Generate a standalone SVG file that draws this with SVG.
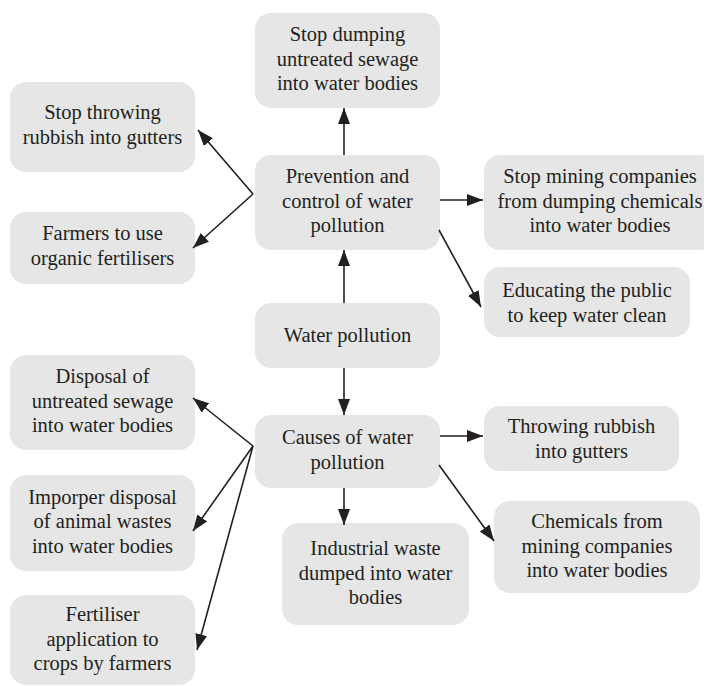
<svg xmlns="http://www.w3.org/2000/svg" width="704" height="686" viewBox="0 0 704 686">
<style>
.box{fill:#e6e6e6;}
text{font-family:'Liberation Serif','Times New Roman',Times,'DejaVu Serif',serif;font-size:20.5px;fill:#231f20;text-anchor:middle;}
.c{stroke:#231f20;stroke-width:1.6;fill:none;marker-end:url(#ah);}
</style>
<defs>
<marker id="ah" markerUnits="userSpaceOnUse" markerWidth="17" markerHeight="12" refX="16" refY="6" orient="auto">
<path d="M0,0 L16,6 L0,12 Z" fill="#231f20"/>
</marker>
</defs>
<rect width="704" height="686" fill="#ffffff"/>
<g font-family="Liberation Serif, Times New Roman, serif">
<g id="stopdump"><rect class="box" x="255" y="13" width="185" height="95" rx="16"/>
<text x="347.5" y="41">Stop dumping</text><text x="347.5" y="65.5">untreated sewage</text><text x="347.5" y="90">into water bodies</text></g>
<g id="stopthrow"><rect class="box" x="10" y="82" width="185" height="90" rx="16"/>
<text x="102.5" y="119">Stop throwing</text><text x="102.5" y="143.5">rubbish into gutters</text></g>
<g id="farmers"><rect class="box" x="10" y="212" width="185" height="72" rx="16"/>
<text x="102.5" y="240">Farmers to use</text><text x="102.5" y="265">organic fertilisers</text></g>
<g id="prevention"><rect class="box" x="255" y="155" width="185" height="95" rx="16"/>
<text x="347.5" y="183">Prevention and</text><text x="347.5" y="207.5">control of water</text><text x="347.5" y="232">pollution</text></g>
<g id="stopmining"><rect class="box" x="484" y="155" width="232" height="95" rx="16"/>
<text x="600" y="183">Stop mining companies</text><text x="600" y="207.5">from dumping chemicals</text><text x="600" y="232">into water bodies</text></g>
<g id="educating"><rect class="box" x="484" y="267" width="206" height="70" rx="16"/>
<text x="587" y="297">Educating the public</text><text x="587" y="321.5">to keep water clean</text></g>
<g id="water"><rect class="box" x="255" y="303" width="185" height="65" rx="16"/>
<text x="347.5" y="342">Water pollution</text></g>
<g id="disposal"><rect class="box" x="10" y="355" width="185" height="95" rx="16"/>
<text x="102.5" y="383">Disposal of</text><text x="102.5" y="407.5">untreated sewage</text><text x="102.5" y="432">into water bodies</text></g>
<g id="causes"><rect class="box" x="255" y="415" width="185" height="73" rx="16"/>
<text x="347.5" y="444">Causes of water</text><text x="347.5" y="468.5">pollution</text></g>
<g id="throwing"><rect class="box" x="484" y="406" width="195" height="65" rx="16"/>
<text x="581.5" y="433">Throwing rubbish</text><text x="581.5" y="457.5">into gutters</text></g>
<g id="improper"><rect class="box" x="10" y="475" width="185" height="96" rx="16"/>
<text x="102.5" y="503.5">Imporper disposal</text><text x="102.5" y="528">of animal wastes</text><text x="102.5" y="552.5">into water bodies</text></g>
<g id="industrial"><rect class="box" x="282" y="523" width="187" height="102" rx="16"/>
<text x="375.5" y="555">Industrial waste</text><text x="375.5" y="579.5">dumped into water</text><text x="375.5" y="604">bodies</text></g>
<g id="chemicals"><rect class="box" x="494" y="501" width="206" height="92" rx="16"/>
<text x="597" y="528">Chemicals from</text><text x="597" y="552.5">mining companies</text><text x="597" y="577">into water bodies</text></g>
<g id="fertiliser"><rect class="box" x="10" y="595" width="185" height="90" rx="16"/>
<text x="102.5" y="621">Fertiliser</text><text x="102.5" y="645.5">application to</text><text x="102.5" y="670">crops by farmers</text></g>
</g>
<g id="connectors">
<line class="c" x1="344" y1="155" x2="344" y2="108"/>
<line class="c" x1="344" y1="303" x2="344" y2="250"/>
<line class="c" x1="253" y1="194" x2="198" y2="130"/>
<line class="c" x1="253" y1="194" x2="193" y2="248"/>
<line class="c" x1="440" y1="200" x2="483" y2="200"/>
<line class="c" x1="439" y1="230" x2="481" y2="307"/>
<line class="c" x1="344" y1="368" x2="344" y2="415"/>
<line class="c" x1="253" y1="446" x2="193" y2="398"/>
<line class="c" x1="253" y1="446" x2="193" y2="531"/>
<line class="c" x1="253" y1="446" x2="197" y2="650"/>
<line class="c" x1="440" y1="436" x2="483" y2="436"/>
<line class="c" x1="439" y1="465" x2="494" y2="541"/>
<line class="c" x1="344" y1="488" x2="344" y2="525"/>
</g>
</svg>
